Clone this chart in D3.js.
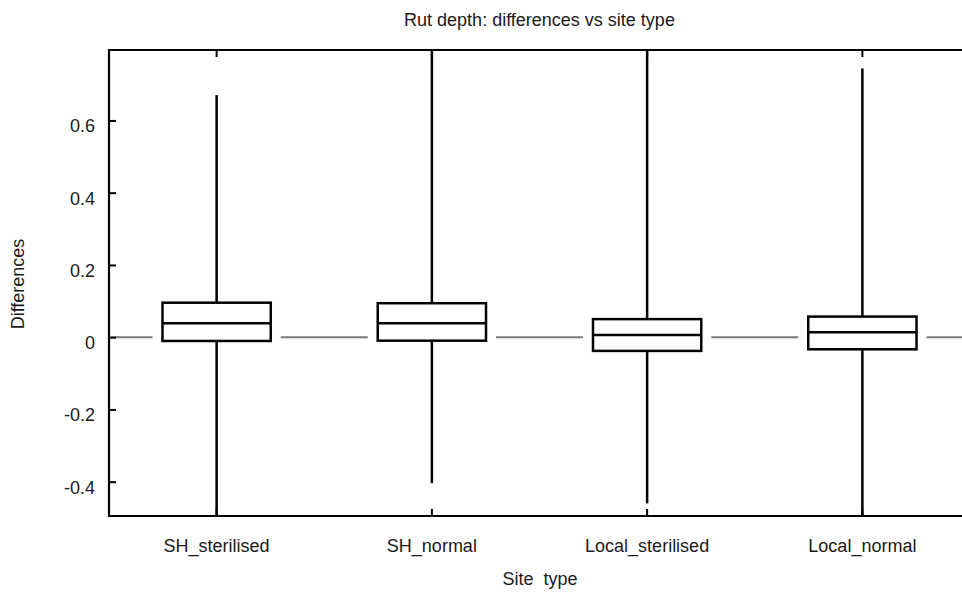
<!DOCTYPE html>
<html lang="en">
<head>
	<meta charset="utf-8">
	<script type="text/javascript" src="https://d3js.org/d3.v7.min.js"></script>
	<style type="text/css">
		body { margin: 0; background: white; }
		text { font-family: "Liberation Sans", Arial, sans-serif; fill: #1a1a1a; }
	</style>
	<title>Rut depth</title>
</head>
<body>
	<script type="text/javascript">
				//Data
				var siteTypes = ["SH_sterilised", "SH_normal", "Local_sterilised", "Local_normal"];
				var whiskerHigh = [0.670, 0.85, 0.85, 0.744];
				var q3 = [0.0955, 0.094, 0.050, 0.057];
				var median = [0.0385, 0.0385, 0.006, 0.0136];
				var q1 = [-0.0105, -0.0097, -0.038, -0.0335];
				var whiskerLow = [-0.56, -0.404, -0.460, -0.56];
				var yTicks = [-0.4, -0.2, 0, 0.2, 0.4, 0.6];

				var boxes = siteTypes.map(function(s, i) {
					return {name: s, hi: whiskerHigh[i], q3: q3[i], med: median[i], q1: q1[i], lo: whiskerLow[i]};
				});

				//Width and height
				var w = 962;
				var h = 595;
				var pLeft = 109, pTop = 50, pBottom = 516, pRight = 970;

				var svg = d3.select("body")
				.append("svg")
				.attr("width", w)
				.attr("height", h);

				var x = d3.scaleBand().domain(siteTypes).range([pLeft, pRight]).padding(0);
				var y = d3.scaleLinear().domain([-0.495, 0.795]).range([pBottom, pTop]);
				var boxW = x.bandwidth() * 0.503;

				svg.append("clipPath").attr("id", "plot")
				.append("rect")
				.attr("x", pLeft).attr("y", pTop)
				.attr("width", pRight - pLeft).attr("height", pBottom - pTop);

				//zero reference line, broken around the boxes
				var segs = [];
				var start = pLeft + 2;
				boxes.forEach(function(d) {
					var cx = x(d.name) + x.bandwidth() / 2;
					segs.push([start, cx - boxW / 2 - 10]);
					start = cx + boxW / 2 + 10;
				});
				segs.push([start, pRight]);
				svg.selectAll("line.zero")
				.data(segs)
				.enter()
				.append("line")
				.attr("class", "zero")
				.attr("x1", function(d) { return d[0]; })
				.attr("x2", function(d) { return d[1]; })
				.attr("y1", y(0)).attr("y2", y(0))
				.style("stroke", "#7a7a7a")
				.style("stroke-width", 2);

				var g = svg.append("g").attr("clip-path", "url(#plot)");

				var box = g.selectAll("g.box")
				.data(boxes)
				.enter()
				.append("g")
				.attr("class", "box")
				.attr("transform", function(d) { return "translate(" + (x(d.name) + x.bandwidth() / 2) + ",0)"; });

				//whiskers
				box.append("line")
				.attr("x1", 0).attr("x2", 0)
				.attr("y1", function(d) { return y(d.hi); })
				.attr("y2", function(d) { return y(d.q3); })
				.style("stroke", "#000").style("stroke-width", 2.5);
				box.append("line")
				.attr("x1", 0).attr("x2", 0)
				.attr("y1", function(d) { return y(d.q1); })
				.attr("y2", function(d) { return y(d.lo); })
				.style("stroke", "#000").style("stroke-width", 2.5);

				box.append("rect")
				.attr("x", -boxW / 2)
				.attr("width", boxW)
				.attr("y", function(d) { return y(d.q3); })
				.attr("height", function(d) { return y(d.q1) - y(d.q3); })
				.style("fill", "white")
				.style("stroke", "#000")
				.style("stroke-width", 2.5);

				box.append("line")
				.attr("x1", -boxW / 2).attr("x2", boxW / 2)
				.attr("y1", function(d) { return y(d.med); })
				.attr("y2", function(d) { return y(d.med); })
				.style("stroke", "#000").style("stroke-width", 2.5);

				//frame
				svg.append("path")
				.attr("d", "M" + pRight + "," + pTop + "H" + pLeft + "V" + pBottom + "H" + pRight)
				.style("fill", "none")
				.style("stroke", "#000")
				.style("stroke-width", 2.2);

				//y axis, ticks inward
				var yAxis = d3.axisRight(y).tickValues(yTicks).tickSize(7).tickFormat("");
				svg.append("g")
				.attr("transform", "translate(" + pLeft + ",0)")
				.call(yAxis)
				.call(function(a) {
					a.select(".domain").remove();
					a.selectAll("line").style("stroke", "#000").style("stroke-width", 2);
				});
				svg.selectAll("text.ytick")
				.data(yTicks)
				.enter()
				.append("text")
				.attr("class", "ytick")
				.attr("x", 95)
				.attr("y", function(d) { return y(d) + 12; })
				.attr("text-anchor", "end")
				.style("font-size", "18px")
				.text(function(d) { return d === 0 ? "0" : d.toFixed(1); });

				//x ticks on top and bottom, inward
				var xAxisB = d3.axisTop(x).tickSize(7).tickFormat("");
				var xAxisT = d3.axisBottom(x).tickSize(7).tickFormat("");
				[[xAxisB, pBottom], [xAxisT, pTop]].forEach(function(p) {
					svg.append("g")
					.attr("transform", "translate(0," + p[1] + ")")
					.call(p[0])
					.call(function(a) {
						a.select(".domain").remove();
						a.selectAll("line").style("stroke", "#000").style("stroke-width", 2);
					});
				});

				svg.selectAll("text.xlab")
				.data(siteTypes)
				.enter()
				.append("text")
				.attr("class", "xlab")
				.attr("x", function(d) { return x(d) + x.bandwidth() / 2; })
				.attr("y", 552)
				.attr("text-anchor", "middle")
				.style("font-size", "18px")
				.text(function(d) { return d; });

				//titles
				svg.append("text")
				.attr("x", (pLeft + pRight) / 2)
				.attr("y", 26)
				.attr("text-anchor", "middle")
				.style("font-size", "18px")
				.text("Rut depth: differences vs site type");

				svg.append("text")
				.attr("x", 540)
				.attr("y", 585)
				.attr("text-anchor", "middle")
				.style("font-size", "18px")
				.style("white-space", "pre")
				.text("Site  type");

				svg.append("text")
				.attr("transform", "translate(24," + 284 + ") rotate(-90)")
				.attr("text-anchor", "middle")
				.style("font-size", "18px")
				.text("Differences");
	</script>
</body>
</html>
